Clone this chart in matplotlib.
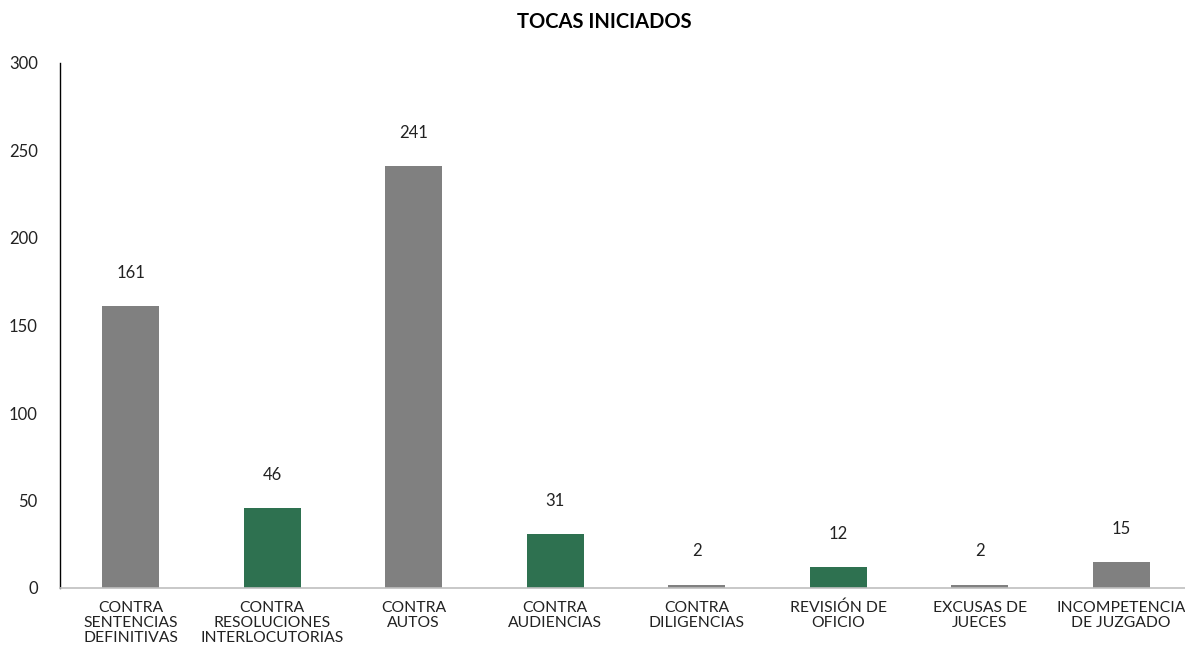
import matplotlib
matplotlib.use("Agg")
import matplotlib.pyplot as plt

# Data
categories = [
    "CONTRA\nSENTENCIAS\nDEFINITIVAS",
    "CONTRA\nRESOLUCIONES\nINTERLOCUTORIAS",
    "CONTRA\nAUTOS",
    "CONTRA\nAUDIENCIAS",
    "CONTRA\nDILIGENCIAS",
    "REVISIÓN DE\nOFICIO",
    "EXCUSAS DE\nJUECES",
    "INCOMPETENCIA\nDE JUZGADO",
]
values = [161, 46, 241, 31, 2, 12, 2, 15]
bar_colors = ["#808080", "#2E7150", "#808080", "#2E7150",
              "#808080", "#2E7150", "#808080", "#808080"]

plt.rcParams["font.family"] = ["Lato", "DejaVu Sans"]

fig = plt.figure(figsize=(11.85, 6.56), dpi=100)
ax = fig.add_axes([60 / 1185, 1 - 588 / 656, 1132 / 1185, 525 / 656])

x = list(range(len(categories)))
bars = ax.bar(x, values, width=0.4, color=bar_colors)

for xi, v in zip(x, values):
    ax.annotate(str(v), (xi, v), xytext=(0, 18), textcoords="offset points",
                ha="center", va="bottom", fontsize=12, color="#222222")

ax.set_xlim(-0.5, 7.5)
ax.set_ylim(0, 300)
ax.set_yticks([0, 50, 100, 150, 200, 250, 300])
ax.tick_params(axis="y", length=0, pad=16, labelsize=12, labelcolor="#222222")
ax.set_xticks(x)
ax.set_xticklabels(categories, fontsize=11.3, color="#222222", linespacing=1.1)
ax.tick_params(axis="x", length=0, pad=9)

ax.spines["top"].set_visible(False)
ax.spines["right"].set_visible(False)
ax.spines["left"].set_color("#000000")
ax.spines["left"].set_linewidth(1.0)
ax.spines["bottom"].set_color("#BFBFBF")
ax.spines["bottom"].set_linewidth(1.2)

fig.text(0.51, 1 - 22 / 656, "TOCAS INICIADOS", ha="center", va="center",
         fontsize=14.5, fontweight="bold", color="#000000")

fig.savefig("out.png", dpi=100)
